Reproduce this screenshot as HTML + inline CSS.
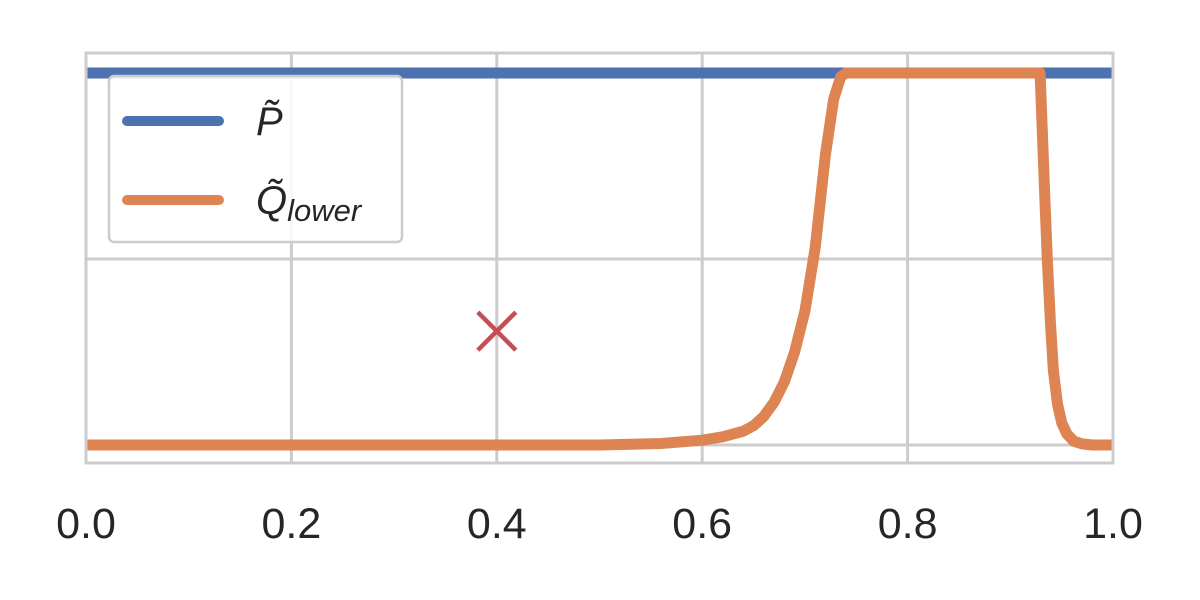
<!DOCTYPE html>
<html><head><meta charset="utf-8"><style>
body{margin:0;background:#fff}
svg{display:block;font-family:"Liberation Sans","DejaVu Sans",sans-serif}
</style></head><body>
<svg id="chart" width="1200" height="600">
<g id="grid"></g><g id="series"></g><g id="ticks"></g>
<rect x="86" y="53" width="1027" height="410" fill="none" stroke="#cccccc" stroke-width="3"/>
<g>
<rect x="109" y="76" width="293" height="166" rx="5" fill="#fff" fill-opacity="0.85" stroke="#cccccc" stroke-width="2.5"/>
<line x1="127" y1="121" x2="219" y2="121" stroke="#4c72b0" stroke-width="10" stroke-linecap="round"/>
<text x="256" y="135" font-size="40" font-style="italic" fill="#262626">P̃</text>
<line x1="127" y1="200" x2="219" y2="200" stroke="#dd8452" stroke-width="10" stroke-linecap="round"/>
<text x="256" y="214" font-size="40" font-style="italic" fill="#262626">Q̃<tspan font-size="31" dy="7">lower</tspan></text>
</g>
</svg>
<script>
const xTicks=[0,0.2,0.4,0.6,0.8,1.0];
const xTickLabels=["0.0","0.2","0.4","0.6","0.8","1.0"];
const yGrid=[0,0.5,1];
const pX=[0,1];
const pY=[1,1];
const qX=[0,0.5,0.56,0.6,0.62,0.64,0.65,0.66,0.67,0.68,0.69,0.70,0.71,0.72,0.728,0.735,0.74,0.929,0.932,0.934,0.936,0.939,0.942,0.946,0.95,0.955,0.962,0.97,0.98,1];
const qY=[0,0,0.004,0.013,0.022,0.037,0.052,0.077,0.115,0.17,0.25,0.36,0.53,0.78,0.93,0.99,1,1,0.78,0.64,0.5,0.33,0.2,0.11,0.06,0.03,0.01,0.003,0,0];
const markX=[0.4];
const markY=[0.306];
const xs=v=>86+v*1027, ys=v=>445-v*372;
const NS="http://www.w3.org/2000/svg";
const mk=(p,t,a)=>{const e=document.createElementNS(NS,t);for(const k in a)e.setAttribute(k,a[k]);document.getElementById(p).appendChild(e);return e;};
xTicks.forEach((t,i)=>{
 const l=mk('grid','line',{x1:xs(t),x2:xs(t),y1:53,y2:463,stroke:'#cccccc','stroke-width':3});
 
 
 const tx=mk('ticks','text',{x:xs(t),y:538,'font-size':43,'text-anchor':'middle',fill:'#262626'});
 tx.textContent=xTickLabels[i];
 
 
});
yGrid.forEach(t=>{
 const l=mk('grid','line',{x1:86,x2:1113,y1:ys(t),y2:ys(t),stroke:'#cccccc','stroke-width':3});
 
 
});
const path=(X,Y)=>X.map((x,i)=>(i?'L':'M')+xs(x).toFixed(1)+','+ys(Y[i]).toFixed(1)).join(' ');
const p=mk('series','path',{d:path(pX,pY),fill:'none',stroke:'#4c72b0','stroke-width':11});


const q=mk('series','path',{d:path(qX,qY),fill:'none',stroke:'#dd8452','stroke-width':11,'stroke-linejoin':'round'});


markX.forEach((m,i)=>{
 const cx=xs(m),cy=ys(markY[i]),r=19;
 const g=mk('series','path',{d:`M${cx-r},${cy-r}L${cx+r},${cy+r}M${cx-r},${cy+r}L${cx+r},${cy-r}`,stroke:'#c44e52','stroke-width':4.5});
 
 
});
</script>
</body></html>
